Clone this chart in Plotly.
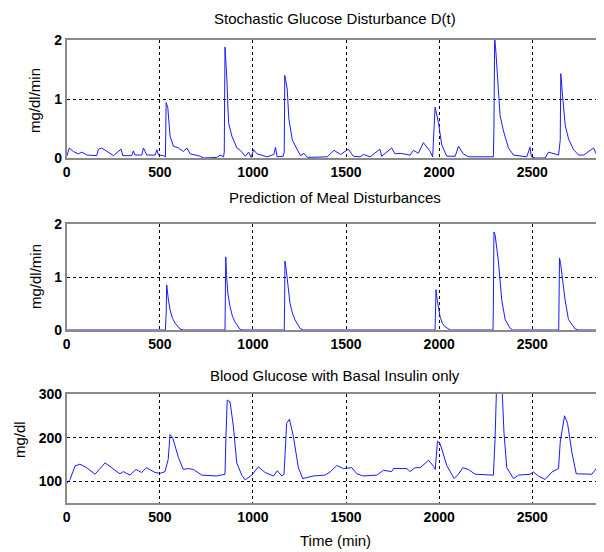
import plotly.graph_objects as go

# ---------------- data ----------------
x_ticks = [0, 500, 1000, 1500, 2000, 2500]

# Panel 1: Stochastic Glucose Disturbance D(t)
dist_t = [0, 14, 36, 63, 81, 108, 161, 170, 188, 215,
          251, 292, 301, 349, 358, 367, 403, 412, 430, 475,
          484, 493, 519, 530, 534, 543, 555, 573, 600, 627,
          645, 663, 717, 735, 806, 824, 842, 846, 850, 860,
          869, 887, 914, 932, 959, 977, 990, 1004, 1022, 1076,
          1112, 1121, 1130, 1162, 1168, 1171, 1184, 1193, 1211, 1238,
          1256, 1274, 1292, 1399, 1435, 1471, 1512, 1539, 1575, 1593,
          1629, 1682, 1691, 1745, 1763, 1790, 1844, 1862, 1888, 1915,
          1930, 1948, 1965, 1972, 1978, 1996, 2014, 2041, 2086, 2104,
          2130, 2157, 2291, 2294, 2298, 2305, 2314, 2327, 2345, 2372,
          2399, 2435, 2470, 2488, 2495, 2515, 2569, 2587, 2614, 2641,
          2650, 2653, 2664, 2677, 2695, 2722, 2749, 2776, 2829, 2845,
          2873, 2885]
dist_v = [0.03, 0.17, 0.11, 0.07, 0.10, 0.05, 0.04, 0.15, 0.17, 0.11,
          0.04, 0.15, 0.04, 0.04, 0.12, 0.05, 0.05, 0.17, 0.05, 0.05,
          0.14, 0.05, 0.04, 0.02, 0.94, 0.85, 0.37, 0.20, 0.17, 0.11,
          0.17, 0.07, 0.03, 0.00, 0.01, 0.05, 0.02, 0.10, 1.88, 1.34,
          0.60, 0.37, 0.17, 0.13, 0.03, 0.10, 0.01, 0.14, 0.07, 0.02,
          0.06, 0.18, 0.02, 0.03, 0.10, 1.40, 1.17, 0.66, 0.31, 0.14,
          0.04, 0.08, 0.01, 0.02, 0.13, 0.06, 0.15, 0.03, 0.02, 0.06,
          0.02, 0.15, 0.03, 0.17, 0.07, 0.08, 0.05, 0.13, 0.08, 0.26,
          0.20, 0.13, 0.02, 0.50, 0.86, 0.60, 0.22, 0.03, 0.03, 0.20,
          0.07, 0.02, 0.02, 0.50, 2.05, 1.78, 1.32, 0.72, 0.46, 0.17,
          0.05, 0.03, 0.02, 0.18, 0.02, 0.00, 0.00, 0.10, 0.07, 0.05,
          0.30, 1.43, 1.00, 0.55, 0.32, 0.14, 0.05, 0.05, 0.17, 0.06,
          0.03, 0.04]

# Panel 2: Prediction of Meal Disturbances
pred_t = [0, 530, 534, 537, 545, 555, 568, 582, 608, 625,
          850, 852, 854, 858, 865, 877, 890, 904, 931, 945,
          1168, 1170, 1172, 1180, 1199, 1212, 1226, 1253, 1270,
          1978, 1980, 1983, 1990, 2005, 2018, 2032, 2060,
          2289, 2291, 2294, 2300, 2318, 2336, 2354, 2381, 2395,
          2642, 2644, 2646, 2652, 2664, 2676, 2694, 2730, 2745,
          2885]
pred_v = [0, 0, 0.30, 0.85, 0.60, 0.38, 0.22, 0.13, 0.02, 0,
          0, 0.45, 1.38, 1.05, 0.70, 0.44, 0.26, 0.15, 0.01, 0,
          0, 0.45, 1.30, 1.10, 0.50, 0.32, 0.19, 0.03, 0,
          0, 0.51, 0.76, 0.55, 0.25, 0.12, 0.06, 0,
          0, 0.41, 1.85, 1.80, 1.30, 0.57, 0.20, 0.03, 0,
          0, 0.45, 1.36, 1.25, 0.85, 0.57, 0.20, 0.02, 0,
          0]

# Panel 3: Blood Glucose with Basal Insulin only
bg_t = [0, 18, 45, 71, 107, 152, 206, 250, 286, 304,
        340, 372, 402, 429, 474, 501, 528, 545, 555, 569,
        600, 626, 653, 680, 725, 805, 850, 855, 862, 877,
        895, 913, 940, 958, 994, 1029, 1065, 1110, 1131, 1155,
        1167, 1181, 1196, 1217, 1244, 1267, 1325, 1387, 1414, 1450,
        1486, 1531, 1558, 1593, 1665, 1701, 1745, 1754, 1826, 1844,
        1871, 1898, 1943, 1970, 1979, 1991, 2005, 2041, 2080, 2103,
        2127, 2157, 2193, 2291, 2300, 2309, 2336, 2348, 2363, 2399,
        2426, 2488, 2506, 2533, 2569, 2605, 2641, 2650, 2673, 2689,
        2713, 2736, 2820, 2847, 2865, 2885]
bg_v = [95, 104, 135, 139, 131, 116, 142, 129, 117, 122,
        114, 127, 120, 131, 120, 118, 122, 150, 207, 200,
        154, 127, 129, 127, 114, 112, 116, 200, 286, 282,
        226, 142, 114, 103, 114, 133, 120, 112, 124, 112,
        116, 233, 242, 203, 131, 106, 112, 114, 121, 136,
        129, 131, 117, 112, 114, 125, 122, 129, 129, 122,
        131, 131, 148, 134, 127, 192, 186, 136, 106, 116,
        131, 127, 116, 114, 196, 330, 330, 211, 131, 106,
        114, 116, 121, 112, 104, 121, 129, 190, 250, 233,
        165, 117, 116, 131, 124, 117]

titles = ["Stochastic Glucose Disturbance D(t)",
          "Prediction of Meal Disturbances",
          "Blood Glucose with Basal Insulin only"]
y_titles = ["mg/dl/min", "mg/dl/min", "mg/dl"]
x_title = "Time (min)"

# ---------------- layout geometry ----------------
# the page body adds an 8px offset, so the figure is drawn 8px smaller
OFF = 8
W, H = 604 - OFF, 552 - OFF
FONT = "Liberation Sans, Arial, sans-serif"
PL = 66.7 - OFF            # left edge of plot area (figure px)
x_left = PL / W
panels = [(40, 158), (224, 330), (394, 503)]   # page px (top, bottom)
y_ranges = [[0, 2], [0, 2], [50, 300]]
y_ticks = [[0, 1, 2], [0, 1, 2], [100, 200, 300]]
title_px = [18, 197, 375]
ylab_px = [101, 277, 440]
ylab_x = [35, 35, 19]
xcenter = (PL + W) / 2 / W


def py(p):
    return 1 - (p - OFF) / H


fig = go.Figure()
series = [(dist_t, dist_v), (pred_t, pred_v), (bg_t, bg_v)]
for i, (t, v) in enumerate(series):
    sfx = "" if i == 0 else str(i + 1)
    fig.add_trace(go.Scatter(x=t, y=v, mode="lines",
                             line=dict(color="#1a1aff", width=1),
                             xaxis="x" + sfx, yaxis="y" + sfx,
                             showlegend=False, hoverinfo="skip"))
    top, bot = panels[i]
    common = dict(showline=True, linecolor="#8a8a8a", linewidth=1.5,
                  showgrid=True, gridcolor="#000000", gridwidth=1,
                  griddash="dot", zeroline=False, ticks="",
                  tickfont=dict(family=FONT, size=14, color="#000",
                                weight="bold"),
                  automargin=False, fixedrange=True)
    fig.layout["xaxis" + sfx] = dict(
        common, domain=[x_left, 1.0], range=[0, 2885],
        tickvals=x_ticks, mirror=True, anchor="y" + sfx)
    fig.layout["yaxis" + sfx] = dict(
        common, domain=[py(bot), py(top)], range=y_ranges[i],
        tickvals=y_ticks[i], mirror=False, anchor="x" + sfx)
    fig.add_annotation(text=titles[i], xref="paper", yref="paper",
                       x=xcenter, y=py(title_px[i]),
                       showarrow=False, xanchor="center", yanchor="middle",
                       font=dict(family=FONT, size=15, color="#000"))
    fig.add_annotation(text=y_titles[i], xref="paper", yref="paper",
                       x=(ylab_x[i] - OFF) / W, y=py(ylab_px[i]),
                       textangle=-90,
                       showarrow=False, xanchor="center", yanchor="middle",
                       font=dict(family=FONT, size=15, color="#000"))

fig.add_annotation(text=x_title, xref="paper", yref="paper",
                   x=xcenter, y=py(540),
                   showarrow=False, xanchor="center", yanchor="middle",
                   font=dict(family=FONT, size=15, color="#000"))

fig.update_layout(width=W, height=H,
                  margin=dict(l=0, r=0, t=0, b=0),
                  paper_bgcolor="white", plot_bgcolor="white")

fig.write_html("out.html")
